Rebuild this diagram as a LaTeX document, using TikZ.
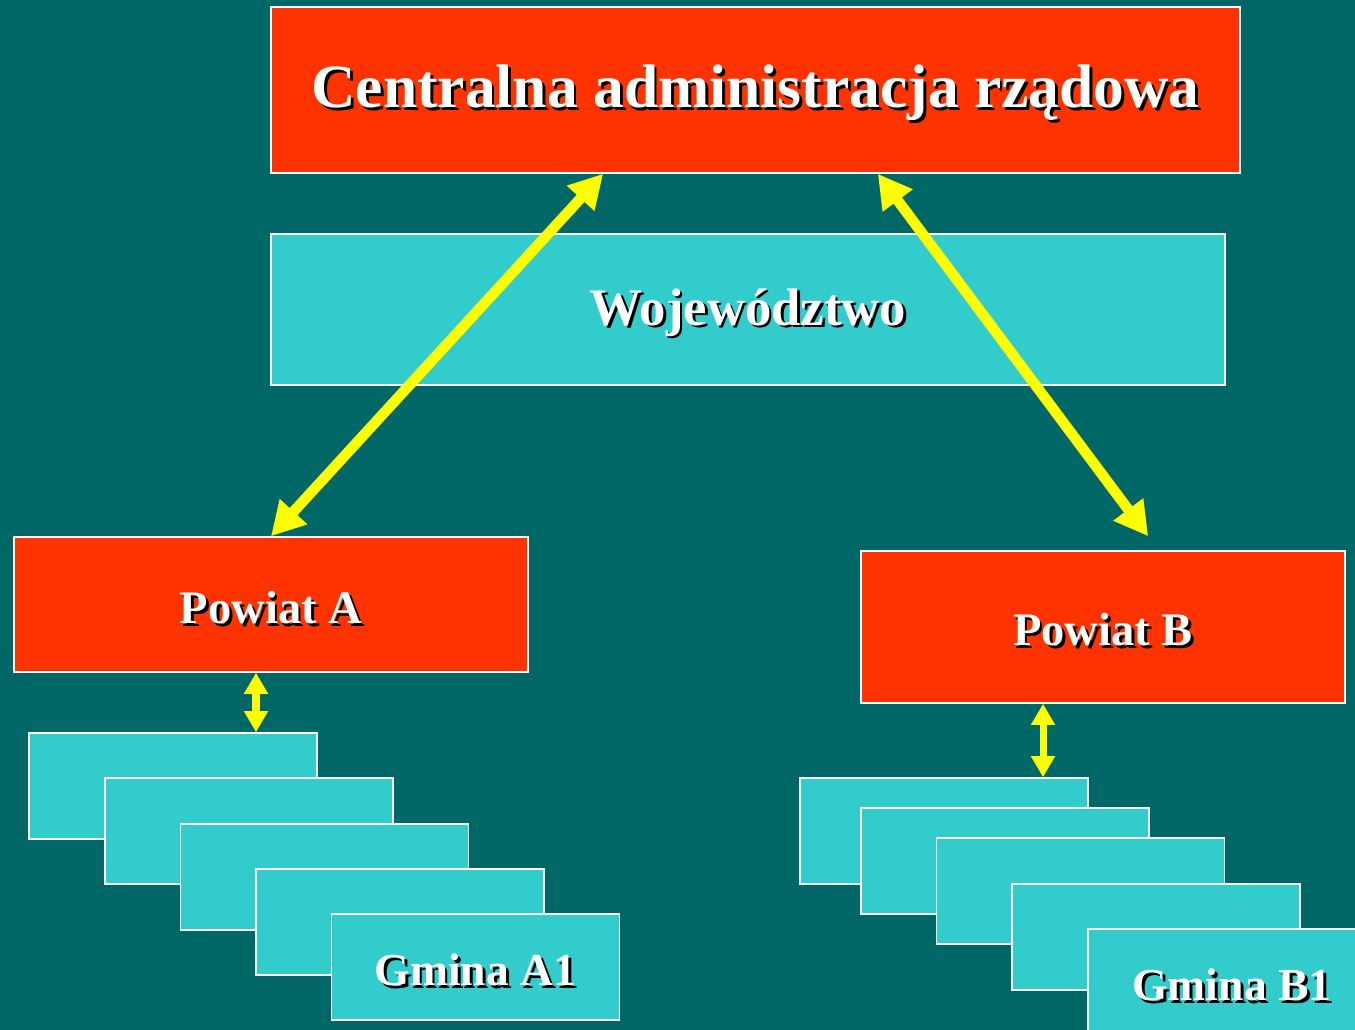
\documentclass[tikz,border=0pt]{standalone}
\usepackage{fontspec}
\setmainfont{Liberation Serif}
\usepackage{tikz}
\usetikzlibrary{arrows.meta,calc}

\definecolor{bgteal}{HTML}{006767}
\definecolor{govred}{HTML}{FF3300}
\definecolor{wojcyan}{HTML}{33CCCC}
\definecolor{linkyellow}{HTML}{FFFF00}

% white text with a dark drop shadow
\newcommand{\shadowed}[1]{\raisebox{-2.5pt}[\height][\depth]{\makebox[0pt][l]{\hspace{1.6pt}\raisebox{-1.6pt}{\color{black}#1}}#1}}

\tikzset{
  unit/.style={draw=white,line width=0.9pt,inner sep=0pt,text=white,font=\bfseries},
  redbox/.style={unit,fill=govred},
  cyanbox/.style={unit,fill=wojcyan},
  gminabox/.style={cyanbox,minimum width=5.76cm,minimum height=2.12cm},
  biglink/.style={linkyellow,line width=6pt,{Triangle[length=19pt,width=20pt]}-{Triangle[length=19pt,width=20pt]}},
  smalllink/.style={linkyellow,line width=4pt,{Triangle[length=12pt,width=13pt]}-{Triangle[length=12pt,width=13pt]}}
}

\begin{document}
\begin{tikzpicture}[x=0.02cm,y=-0.02cm]
          \fill[bgteal] (0,0) rectangle (1355,1030);
          \useasboundingbox (0,0) rectangle (1355,1030);
          \node[redbox,minimum width=19.38cm,minimum height=3.32cm] (cen) at (755.5,90)
            {\fontsize{35}{40}\selectfont\shadowed{Centralna administracja rządowa}};
          \node[cyanbox,minimum width=19.08cm,minimum height=3.02cm] (woj) at (748,309.5)
            {\fontsize{30}{34}\selectfont\shadowed{Województwo}};
          \node[redbox,minimum width=10.28cm,minimum height=2.70cm] (pa) at (271,604.5)
            {\fontsize{26.5}{30}\selectfont\shadowed{Powiat A}};
          \node[redbox,minimum width=9.68cm,minimum height=3.04cm] (pb) at (1103,627)
            {\fontsize{26.5}{30}\selectfont\shadowed{Powiat B}};
          % gminy powiatu A
          \node[gminabox] (a1) at (173,786) {};
          \node[gminabox] (a2) at (249,831) {};
          \node[gminabox] (a3) at (324.5,877) {};
          \node[gminabox] (a4) at (400,922) {};
          \node[gminabox] (a5) at (475.5,967) {\fontsize{26}{30}\selectfont\shadowed{Gmina A1}};
          % gminy powiatu B
          \node[gminabox] (b1) at (944,831) {};
          \node[gminabox] (b2) at (1005,861) {};
          \node[gminabox] (b3) at (1080.5,891) {};
          \node[gminabox] (b4) at (1156,937) {};
          \node[gminabox] (b5) at (1232,982) {\fontsize{26}{30}\selectfont\shadowed{Gmina B1}};
          % links
          \draw[biglink] ($(cen.south west)!0.343!(cen.south east)$) -- (pa.north);
          \draw[biglink] ($(cen.south west)!0.626!(cen.south east)$) -- ($(pb.north west)!0.593!(pb.north east)+(0,-14)$);
          \draw[smalllink] ([xshift=-0.3cm]pa.south) -- ([xshift=-0.3cm]pa.south |- a1.north);
          \draw[smalllink] ([xshift=-1.2cm]pb.south) -- ([xshift=-1.2cm]pb.south |- b1.north);
        \end{tikzpicture}
\end{document}
